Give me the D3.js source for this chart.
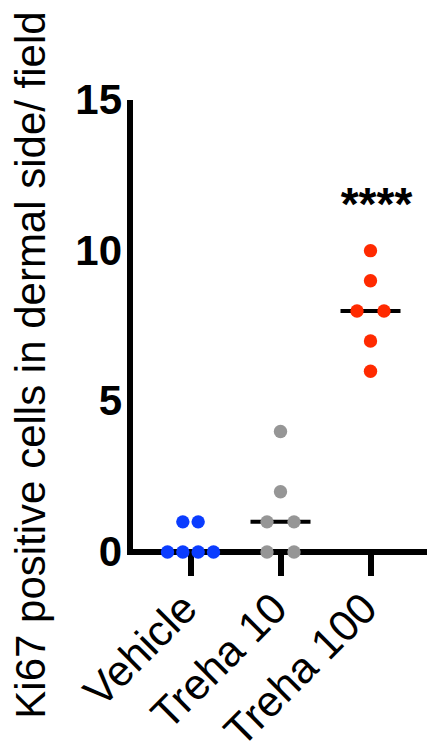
<!DOCTYPE html>
<html>
<head>
<meta charset="utf-8">
<script src="https://cdn.jsdelivr.net/npm/d3@7"></script>
<style>
  body { margin: 0; background: #fff; }
  svg { display: block; font-family: "Liberation Sans", Arial, sans-serif; }
</style>
</head>
<body>
<div id="chart"></div>
<script>
// groups and raw values
const groups = ["Vehicle", "Treha 10", "Treha 100"];
const vehicle = [0, 0, 0, 0, 1, 1];
const treha10 = [0, 0, 1, 1, 2, 4];
const treha100 = [6, 7, 8, 8, 9, 10];
const colors = ["#0a3cff", "#969696", "#ff2a00"];
const yTicks = [0, 5, 10, 15];
const significance = ["", "", "****"];

const values = [vehicle, treha10, treha100];

const W = 427, H = 747;

const svg = d3.select("#chart")
    .append("svg")
    .attr("width", W)
    .attr("height", H);

// scales
const y = d3.scaleLinear()
    .domain([0, 15])
    .range([552, 100]);

const x = d3.scalePoint()
    .domain(groups)
    .range([145.5, 415.5])
    .padding(0.5);

const axisX0 = 130;

// median lines
groups.forEach((g, i) => {
    const med = d3.median(values[i]);
    svg.append("line")
        .attr("x1", x(g) - 30)
        .attr("x2", x(g) + 30)
        .attr("y1", y(med))
        .attr("y2", y(med))
        .attr("stroke", "#000")
        .attr("stroke-width", 4);
});

// y axis
const yAxis = svg.append("g")
    .attr("transform", `translate(${axisX0},0)`)
    .call(d3.axisLeft(y).tickValues(yTicks).tickSize(0).tickPadding(8));
yAxis.select(".domain").remove();
yAxis.selectAll("text")
    .attr("font-size", 42)
    .attr("font-weight", "bold")
    .attr("font-family", "'Liberation Sans', Arial, sans-serif")
    .attr("fill", "#000");

svg.append("line")
    .attr("x1", axisX0)
    .attr("x2", axisX0)
    .attr("y1", y(15))
    .attr("y2", y(0) + 3)
    .attr("stroke", "#000")
    .attr("stroke-width", 6);

// x axis
const xAxis = svg.append("g")
    .attr("transform", `translate(0,${y(0)})`)
    .call(d3.axisBottom(x).tickSize(24).tickSizeOuter(0).tickFormat(""));
xAxis.select(".domain").remove();
xAxis.selectAll(".tick line")
    .attr("stroke", "#000")
    .attr("stroke-width", 6);

svg.append("line")
    .attr("x1", axisX0 - 3)
    .attr("x2", W)
    .attr("y1", y(0))
    .attr("y2", y(0))
    .attr("stroke", "#000")
    .attr("stroke-width", 6);

// rotated category labels
svg.append("g")
    .selectAll("text")
    .data(groups)
    .join("text")
    .attr("transform", d => `translate(${x(d) + 9},${611}) rotate(-45)`)
    .attr("text-anchor", "end")
    .attr("font-size", 43)
    .attr("fill", "#000")
    .text(d => d);

// points, spread sideways where values repeat
groups.forEach((g, i) => {
    const counts = d3.rollup(values[i], v => v.length, d => d);
    const maxCount = d3.max(counts.values());
    const step = maxCount > 1 ? Math.min(27, 46 / (maxCount - 1)) : 0;
    const seen = new Map();
    const pts = values[i].map(v => {
        const n = counts.get(v);
        const k = seen.get(v) || 0;
        seen.set(v, k + 1);
        return { v, dx: (k - (n - 1) / 2) * step };
    });
    svg.append("g")
        .selectAll("circle")
        .data(pts)
        .join("circle")
        .attr("cx", d => x(g) + d.dx)
        .attr("cy", d => y(d.v))
        .attr("r", 6.7)
        .attr("fill", colors[i]);
});

// significance stars
groups.forEach((g, i) => {
    if (!significance[i]) return;
    svg.append("text")
        .attr("x", x(g) + 6)
        .attr("y", 220)
        .attr("text-anchor", "middle")
        .attr("font-size", 46)
        .attr("font-weight", "bold")
        .attr("fill", "#000")
        .text(significance[i]);
});

// y axis title
svg.append("text")
    .attr("transform", `translate(45,${365}) rotate(-90)`)
    .attr("text-anchor", "middle")
    .attr("font-size", 42)
    .attr("fill", "#000")
    .text("Ki67 positive cells in dermal side/ field");
</script>
</body>
</html>
